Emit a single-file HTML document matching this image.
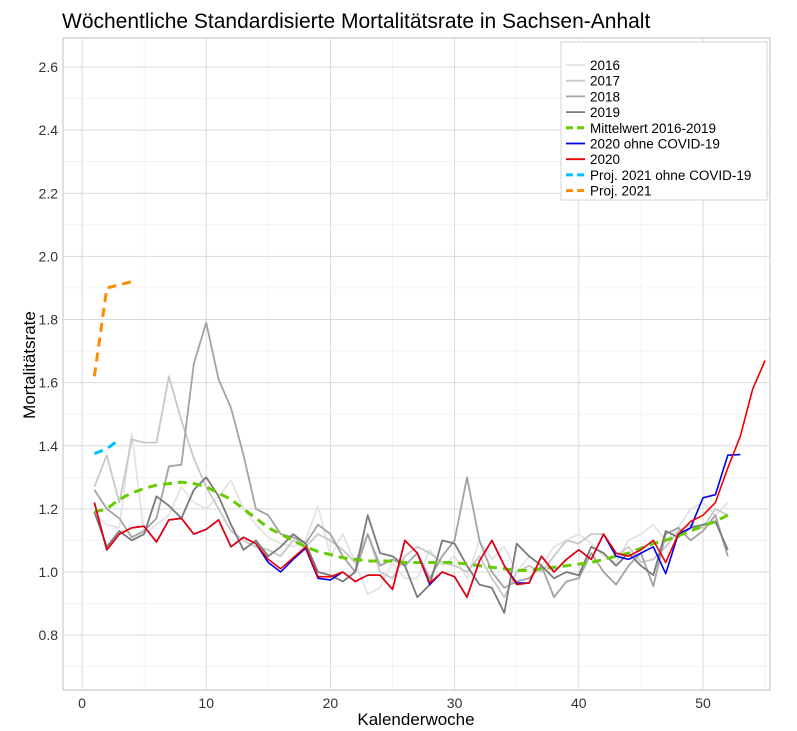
<!DOCTYPE html>
<html><head><meta charset="utf-8"><style>
body{margin:0;background:#fff;font-family:"Liberation Sans",sans-serif}
svg{display:block}
</style></head><body>
<svg id="c" width="797" height="731" font-family="Liberation Sans, sans-serif">
<text x="62" y="28" font-size="21" fill="#000">Wöchentliche Standardisierte Mortalitätsrate in Sachsen-Anhalt</text>
<g id="grid"></g>
<g id="series"></g>
<g id="axes"></g>
<text x="416" y="725" font-size="17" text-anchor="middle">Kalenderwoche</text>
<text transform="translate(35,365) rotate(-90)" font-size="17" text-anchor="middle">Mortalitätsrate</text>
<g id="legend"></g>
</svg>
<script>
const xTicks=[0,10,20,30,40,50];
const yTicks=[0.8,1.0,1.2,1.4,1.6,1.8,2.0,2.2,2.4,2.6];
const s2016=[1.18,1.15,1.14,1.44,1.12,1.15,1.18,1.27,1.22,1.20,1.24,1.29,1.20,1.15,1.11,1.09,1.08,1.10,1.21,1.05,1.12,1.03,0.93,0.95,1.03,0.98,0.98,1.07,1.02,1.05,0.98,1.10,1.04,1.08,1.00,1.05,1.02,1.08,1.10,1.12,1.09,1.05,1.03,1.10,1.12,1.15,1.10,1.14,1.20,1.22,1.18,1.22];
const s2017=[1.27,1.37,1.22,1.42,1.41,1.41,1.62,1.48,1.36,1.27,1.20,1.13,1.10,1.08,1.07,1.05,1.10,1.08,1.12,1.10,1.07,1.03,1.12,1.00,0.98,1.05,1.08,1.06,1.03,1.02,1.00,1.05,0.98,0.92,1.00,1.02,1.00,1.05,1.10,1.09,1.12,1.12,1.05,1.08,1.03,1.04,1.08,1.13,1.15,1.14,1.20,1.18];
const s2018=[1.26,1.20,1.17,1.11,1.13,1.17,1.335,1.34,1.66,1.79,1.61,1.52,1.37,1.20,1.18,1.12,1.11,1.09,1.15,1.12,1.05,1.00,1.12,1.02,1.04,1.02,1.06,0.98,1.05,1.10,1.30,1.10,1.00,0.95,0.97,0.98,1.02,0.92,0.97,0.98,1.06,1.00,0.96,1.02,1.06,0.955,1.12,1.14,1.10,1.13,1.18,1.05];
const s2019=[1.19,1.08,1.13,1.10,1.12,1.24,1.21,1.17,1.26,1.30,1.24,1.15,1.07,1.10,1.05,1.08,1.12,1.09,1.00,0.99,0.97,1.00,1.18,1.06,1.05,1.02,0.92,0.96,1.10,1.09,1.02,0.96,0.95,0.87,1.09,1.05,1.02,0.98,1.00,0.99,1.08,1.06,1.02,1.06,1.02,0.99,1.13,1.11,1.14,1.15,1.16,1.07];
const sMean=[1.19,1.20,1.23,1.25,1.265,1.275,1.28,1.285,1.28,1.27,1.25,1.23,1.20,1.17,1.14,1.12,1.10,1.08,1.065,1.055,1.045,1.04,1.035,1.035,1.035,1.03,1.03,1.03,1.03,1.03,1.025,1.02,1.015,1.01,1.005,1.005,1.01,1.015,1.02,1.025,1.03,1.04,1.05,1.06,1.075,1.09,1.10,1.115,1.13,1.145,1.16,1.18];
const s2020=[1.22,1.07,1.12,1.14,1.145,1.095,1.165,1.17,1.12,1.135,1.165,1.08,1.11,1.09,1.04,1.01,1.045,1.08,0.985,0.985,1.00,0.97,0.99,0.99,0.945,1.10,1.06,0.965,1.00,0.985,0.92,1.035,1.10,1.02,0.96,0.965,1.05,1.00,1.04,1.07,1.04,1.12,1.06,1.05,1.07,1.10,1.03,1.12,1.16,1.18,1.22,1.33,1.43,1.58,1.67];
const s2020noCovid=[1.22,1.07,1.12,1.14,1.145,1.095,1.165,1.17,1.12,1.135,1.165,1.08,1.11,1.09,1.03,1.00,1.04,1.075,0.98,0.975,1.00,0.97,0.99,0.99,0.945,1.10,1.06,0.96,1.00,0.985,0.92,1.035,1.10,1.02,0.965,0.965,1.05,1.00,1.04,1.07,1.04,1.12,1.05,1.04,1.06,1.08,0.995,1.12,1.14,1.235,1.245,1.37,1.372];
const sProjNoCovid=[1.375,1.39,1.42];
const sProj=[1.62,1.90,1.91,1.92];
const X0=82,XS=12.42,Y0=572,YS=315.6;
const xS=v=>X0+v*XS, yS=v=>Y0-(v-1)*YS;
const NS="http://www.w3.org/2000/svg";
function mk(t,a,p){const e=document.createElementNS(NS,t);for(const k in a)e.setAttribute(k,a[k]);p.appendChild(e);return e;}
const L=63,R=770,T=38,B=690;
const g=document.getElementById('grid');
const bg=mk('rect',{x:L,y:T,width:R-L,height:B-T,fill:'#fff',stroke:'#999','stroke-width':0.6},g);


for(let v=-5;v<=55;v+=5){const x=xS(v);if(x<L||x>R)continue;const ln=mk('line',{x1:x,x2:x,y1:T,y2:B,stroke:v%10==0?'#d9d9d9':'#ececec','stroke-width':v%10==0?1:0.6},g);

}
for(let v=0.7;v<=2.71;v+=0.1){const y=yS(v);if(y<T||y>B)continue;const maj=Math.round(v*10)%2==0;const ln=mk('line',{x1:L,x2:R,y1:y,y2:y,stroke:maj?'#d9d9d9':'#ececec','stroke-width':maj?1:0.6},g);

}
const ax=document.getElementById('axes');
xTicks.forEach(v=>{const t=mk('text',{x:xS(v),y:708,'font-size':14,'text-anchor':'middle',fill:'#333'},ax);t.textContent=v;

});
yTicks.forEach(v=>{const t=mk('text',{x:58,y:yS(v)+5,'font-size':14,'text-anchor':'end',fill:'#333'},ax);t.textContent=v.toFixed(1);

});
const sg=document.getElementById('series');
function line(arr,col,w,dash,name){const pts=arr.map((v,i)=>xS(i+1).toFixed(1)+','+yS(v).toFixed(1)).join(' ');
const p=mk('polyline',{points:pts,fill:'none',stroke:col,'stroke-width':w,'stroke-dasharray':dash||'none','stroke-linejoin':'round'},sg);

}
line(s2016,'#e3e3e3',1.8,null,'line-2016');
line(s2017,'#c8c8c8',1.8,null,'line-2017');
line(s2018,'#a3a3a3',1.8,null,'line-2018');
line(s2019,'#7a7a7a',1.8,null,'line-2019');
line(sMean,'#66cc00',3,'9,6','line-mean-2016-2019');
line(s2020noCovid,'#0000ee',1.6,null,'line-2020-ohne-covid');
line(s2020,'#ee0000',1.6,null,'line-2020');
line(sProjNoCovid,'#00bfff',3,'9,6','line-proj-2021-ohne-covid');
line(sProj,'#ff8c00',3,'9,6','line-proj-2021');
const lg=document.getElementById('legend');
const lb=mk('rect',{x:561,y:42,width:206,height:158,fill:'#fff',stroke:'#ccc','stroke-width':0.8},lg);


const items=[['2016','#e3e3e3',0],['2017','#c8c8c8',0],['2018','#a3a3a3',0],['2019','#7a7a7a',0],['Mittelwert 2016-2019','#66cc00',1],['2020 ohne COVID-19','#0000ee',0],['2020','#ee0000',0],['Proj. 2021 ohne COVID-19','#00bfff',1],['Proj. 2021','#ff8c00',1]];
items.forEach((it,i)=>{const y=65+i*15.7;
const l=mk('line',{x1:566,x2:585,y1:y,y2:y,stroke:it[1],'stroke-width':it[2]?3:1.8,'stroke-dasharray':it[2]?'7,4':'none'},lg);


const t=mk('text',{x:590,y:y+5,'font-size':13.5,fill:'#000'},lg);t.textContent=it[0];

});
</script>
</body></html>
